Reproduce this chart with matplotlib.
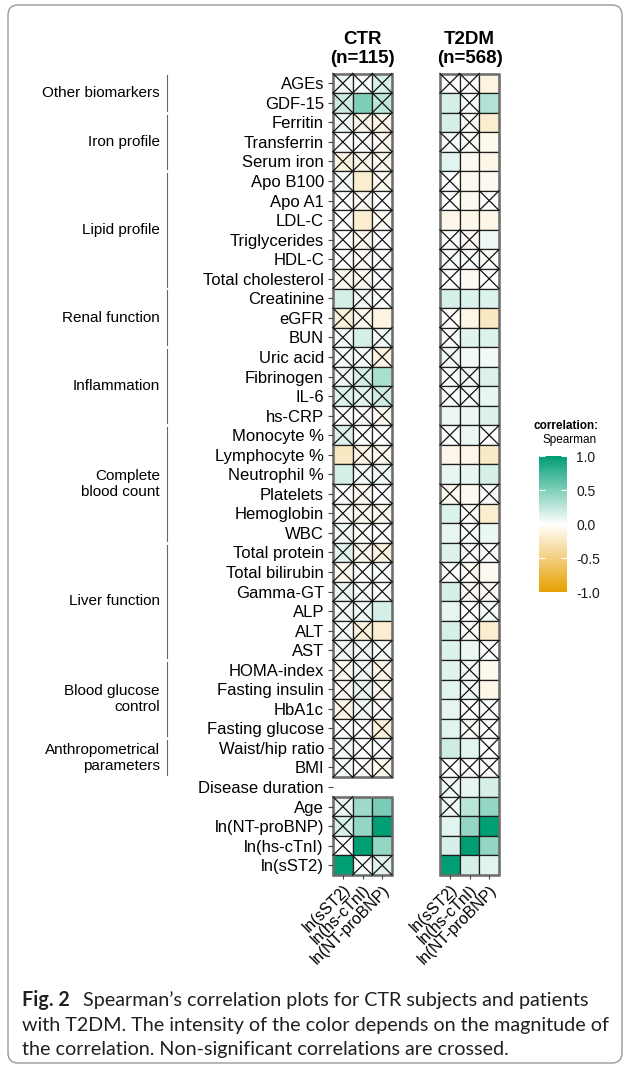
import matplotlib
matplotlib.use("Agg")
import matplotlib.pyplot as plt
import numpy as np
from matplotlib.colors import LinearSegmentedColormap, Normalize
from matplotlib.patches import Rectangle, FancyBboxPatch
from matplotlib.transforms import blended_transform_factory, IdentityTransform
from matplotlib.cm import ScalarMappable

plt.rcParams['font.family'] = ['Liberation Sans', 'DejaVu Sans']

rows = ["AGEs", "GDF-15", "Ferritin", "Transferrin", "Serum iron", "Apo B100",
        "Apo A1", "LDL-C", "Triglycerides", "HDL-C", "Total cholesterol",
        "Creatinine", "eGFR", "BUN", "Uric acid", "Fibrinogen", "IL-6", "hs-CRP",
        "Monocyte %", "Lymphocyte %", "Neutrophil %", "Platelets", "Hemoglobin",
        "WBC", "Total protein", "Total bilirubin", "Gamma-GT", "ALP", "ALT", "AST",
        "HOMA-index", "Fasting insulin", "HbA1c", "Fasting glucose",
        "Waist/hip ratio", "BMI", "Disease duration", "Age", "ln(NT-proBNP)",
        "ln(hs-cTnI)", "ln(sST2)"]
cols = ["ln(sST2)", "ln(hs-cTnI)", "ln(NT-proBNP)"]

nan = np.nan
# Spearman rho, columns: sST2, hs-cTnI, NT-proBNP
ctr_rho = [
    [0.05, 0.03, 0.15], [0.20, 0.50, 0.25], [0.05, -0.08, -0.09],
    [0.00, 0.02, -0.05], [-0.12, -0.08, -0.06], [0.05, -0.18, -0.06],
    [0.00, -0.05, 0.00], [0.00, -0.18, -0.04], [0.00, -0.06, 0.01],
    [0.00, -0.04, 0.02], [-0.06, -0.06, 0.02], [0.17, 0.04, 0.01],
    [-0.14, -0.07, -0.12], [0.04, 0.17, 0.06], [0.04, 0.04, -0.12],
    [0.06, 0.17, 0.33], [0.13, 0.11, 0.19], [0.00, 0.02, -0.05],
    [0.13, 0.00, 0.00], [-0.24, -0.09, -0.07], [0.17, 0.04, 0.06],
    [0.00, -0.05, 0.00], [-0.03, -0.07, -0.07], [0.05, -0.03, 0.00],
    [0.11, -0.07, -0.12], [-0.07, 0.02, 0.03], [0.08, 0.02, 0.02],
    [0.05, 0.07, 0.17], [0.03, -0.14, -0.18], [0.05, 0.05, 0.04],
    [-0.05, 0.06, -0.09], [-0.04, 0.09, -0.06], [-0.09, 0.06, -0.03],
    [0.00, 0.00, -0.14], [0.04, 0.02, 0.02], [0.03, 0.00, -0.07],
    [nan, nan, nan], [0.08, 0.38, 0.52], [0.15, 0.42, 1.00],
    [0.00, 1.00, 0.42], [1.00, 0.02, 0.12]]
# 1 = not significant (crossed)
ctr_ns = [
    [1, 1, 1], [1, 0, 1], [1, 1, 1], [1, 1, 1], [1, 1, 1], [1, 0, 1],
    [1, 1, 1], [1, 0, 1], [1, 1, 1], [1, 1, 1], [1, 1, 1], [0, 1, 1],
    [1, 1, 0], [1, 0, 1], [1, 1, 1], [1, 1, 0], [1, 1, 1], [1, 1, 1],
    [1, 1, 1], [0, 1, 1], [0, 1, 1], [1, 1, 1], [1, 1, 1], [1, 1, 1],
    [1, 1, 1], [1, 1, 1], [1, 1, 1], [1, 1, 0], [1, 1, 0], [1, 1, 1],
    [1, 1, 1], [1, 1, 1], [1, 1, 1], [1, 1, 1], [1, 1, 1], [1, 1, 1],
    [0, 0, 0], [1, 0, 0], [1, 0, 0], [1, 0, 0], [0, 1, 1]]

t2dm_rho = [
    [0.02, 0.02, -0.12], [0.16, 0.03, 0.30], [0.16, -0.03, -0.18],
    [0.04, -0.03, -0.07], [0.11, -0.07, -0.09], [0.00, -0.07, -0.06],
    [0.00, -0.07, 0.00], [-0.08, -0.08, -0.08], [0.00, -0.04, 0.07],
    [0.03, 0.03, -0.03], [0.00, -0.05, 0.00], [0.16, 0.14, 0.14],
    [-0.02, -0.10, -0.24], [0.03, 0.12, 0.14], [0.06, 0.05, 0.05],
    [0.02, 0.05, 0.13], [0.03, 0.05, 0.09], [0.08, 0.08, 0.13],
    [0.03, 0.08, 0.02], [-0.09, -0.09, -0.22], [0.09, 0.09, 0.16],
    [-0.07, -0.06, 0.02], [0.14, -0.02, -0.18], [0.09, 0.03, 0.08],
    [0.13, 0.02, 0.02], [0.02, -0.04, -0.06], [0.16, -0.04, -0.04],
    [0.09, 0.00, 0.04], [0.16, -0.03, -0.18], [0.14, 0.08, 0.00],
    [0.12, 0.04, -0.07], [0.11, 0.05, -0.08], [0.10, 0.00, 0.02],
    [0.11, -0.03, 0.00], [0.19, 0.11, 0.00], [0.00, 0.00, 0.02],
    [0.06, 0.09, 0.16], [0.05, 0.27, 0.42], [0.11, 0.42, 1.00],
    [0.16, 1.00, 0.42], [1.00, 0.16, 0.11]]
t2dm_ns = [
    [1, 1, 0], [0, 1, 0], [0, 1, 0], [1, 1, 0], [0, 0, 0], [1, 0, 0],
    [1, 0, 1], [0, 0, 0], [1, 1, 0], [1, 1, 1], [1, 0, 1], [0, 0, 0],
    [1, 0, 0], [1, 0, 0], [1, 0, 0], [1, 1, 0], [1, 1, 0], [0, 0, 0],
    [1, 0, 1], [0, 0, 0], [0, 0, 0], [1, 0, 1], [0, 1, 0], [0, 1, 0],
    [0, 1, 1], [1, 1, 0], [0, 1, 1], [0, 1, 1], [0, 1, 0], [0, 0, 1],
    [0, 1, 0], [0, 1, 0], [0, 1, 1], [0, 1, 1], [0, 0, 1], [1, 1, 1],
    [1, 0, 0], [1, 0, 0], [0, 0, 0], [0, 0, 0], [0, 0, 0]]

groups = [("Other biomarkers", 0, 1), ("Iron profile", 2, 4),
          ("Lipid profile", 5, 10), ("Renal function", 11, 13),
          ("Inflammation", 14, 17), ("Complete\nblood count", 18, 23),
          ("Liver function", 24, 29), ("Blood glucose\ncontrol", 30, 33),
          ("Anthropometrical\nparameters", 34, 35)]

W, H = 630, 1067
fig = plt.figure(figsize=(W / 100, H / 100), dpi=100)

cmap = LinearSegmentedColormap.from_list("rho", ["#E69F00", "#FFFFFF", "#009E73"])
norm = Normalize(-1, 1)


def px_rect(x0, y0, x1, y1):
    return [x0 / W, 1 - y1 / H, (x1 - x0) / W, (y1 - y0) / H]


def draw_panel(ax, rho, ns, title):
    rho = np.array(rho, dtype=float)
    n = len(rho)
    for i in range(n):
        for j in range(3):
            v = rho[i, j]
            if np.isnan(v):
                continue
            ax.add_patch(Rectangle((j, i), 1, 1, facecolor=cmap(norm(v)),
                                   edgecolor="#1e1e1e", lw=0.9, clip_on=False))
            if ns[i][j]:
                ax.plot([j, j + 1], [i, i + 1], color="#111111", lw=0.9, clip_on=False)
                ax.plot([j, j + 1], [i + 1, i], color="#111111", lw=0.9, clip_on=False)
    # grey outline around each contiguous block of rows
    ok = ~np.isnan(rho[:, 0])
    start = None
    for i in range(n + 1):
        if i < n and ok[i] and start is None:
            start = i
        elif (i == n or not ok[i]) and start is not None:
            ax.add_patch(Rectangle((0, start), 3, i - start, fill=False,
                                   edgecolor="#6e6e6e", lw=1.8, clip_on=False))
            start = None
    ax.set_xlim(0, 3)
    ax.set_ylim(n, 0)
    ax.set_xticks(np.arange(3) + 0.5)
    ax.set_xticklabels(cols, rotation=45, ha="right", va="top",
                       rotation_mode="anchor", fontsize=11.5)
    ax.tick_params(axis="x", length=3, color="#444444", pad=2)
    for s in ax.spines.values():
        s.set_visible(False)
    ax.text(1.5, -0.35, title, ha="center", va="bottom", fontsize=13.5,
            fontweight="bold", linespacing=1.15)


ax1 = fig.add_axes(px_rect(333, 73.5, 392, 875))
ax2 = fig.add_axes(px_rect(440, 73.5, 499, 875))
draw_panel(ax1, ctr_rho, ctr_ns, "CTR\n(n=115)")
draw_panel(ax2, t2dm_rho, t2dm_ns, "T2DM\n(n=568)")

ax1.set_yticks(np.arange(len(rows)) + 0.5)
ax1.set_yticklabels(rows, fontsize=12)
ax1.tick_params(axis="y", length=3.5, color="#444444", pad=3)
ax2.set_yticks([])

# group brackets on the left
tr = blended_transform_factory(fig.transFigure, ax1.transData)
for name, r0, r1 in groups:
    ax1.plot([167 / W, 167 / W], [r0 + 0.1, r1 + 0.9], transform=tr,
             color="#666666", lw=0.8, clip_on=False)
    ax1.text(160 / W, (r0 + r1 + 1) / 2, name, transform=tr, ha="right",
             va="center", fontsize=11, linespacing=1.2)

# colour bar
cax = fig.add_axes(px_rect(539, 456, 567, 592))
cb = fig.colorbar(ScalarMappable(norm=norm, cmap=cmap), cax=cax,
                  ticks=[-1, -0.5, 0, 0.5, 1])
cb.outline.set_visible(False)
cb.set_ticklabels(["-1.0", "-0.5", "0.0", "0.5", "1.0"])
cax.tick_params(direction="in", color="white", length=4, width=0.8,
                left=True, right=True, labelsize=10, pad=6.5, labelcolor="#1a1a1a")
fig.text(566 / W, 1 - 426 / H, "correlation:", ha="center", va="center",
         fontsize=8.5, fontweight="bold")
fig.text(570 / W, 1 - 440 / H, "Spearman", ha="center", va="center", fontsize=8.5)

# caption
cap_font = ["Lato", "DejaVu Sans"]
renderer = fig.canvas.get_renderer()
line2 = fig.text(22 / W, 1 - 1025 / H,
                 "with T2DM. The intensity of the color depends on the magnitude of",
                 ha="left", va="center", fontsize=12, family=cap_font, color="#231f20")
w = line2.get_window_extent(renderer).width
size = 12 * 586 / w
line2.set_fontsize(size)
fig.text(22 / W, 1 - 1050 / H,
         "the correlation. Non-significant correlations are crossed.",
         ha="left", va="center", fontsize=size, family=cap_font, color="#231f20")
bold = fig.text(22 / W, 1 - 1000 / H, "Fig. 2", ha="left", va="center",
                fontsize=size, family=cap_font, fontweight="bold", color="#231f20")
bx = bold.get_window_extent(renderer).x1
fig.text((bx + 13) / W, 1 - 1000 / H,
         "Spearman\u2019s correlation plots for CTR subjects and patients",
         ha="left", va="center", fontsize=size, family=cap_font, color="#231f20")

# rounded frame around the figure
fig.patches.append(FancyBboxPatch((8, 4), 614, 1058,
                                  boxstyle="round,pad=0,rounding_size=10",
                                  transform=IdentityTransform(), fill=False,
                                  ec="#9a9a9a", lw=1.0))

fig.savefig("out.png", dpi=100)
